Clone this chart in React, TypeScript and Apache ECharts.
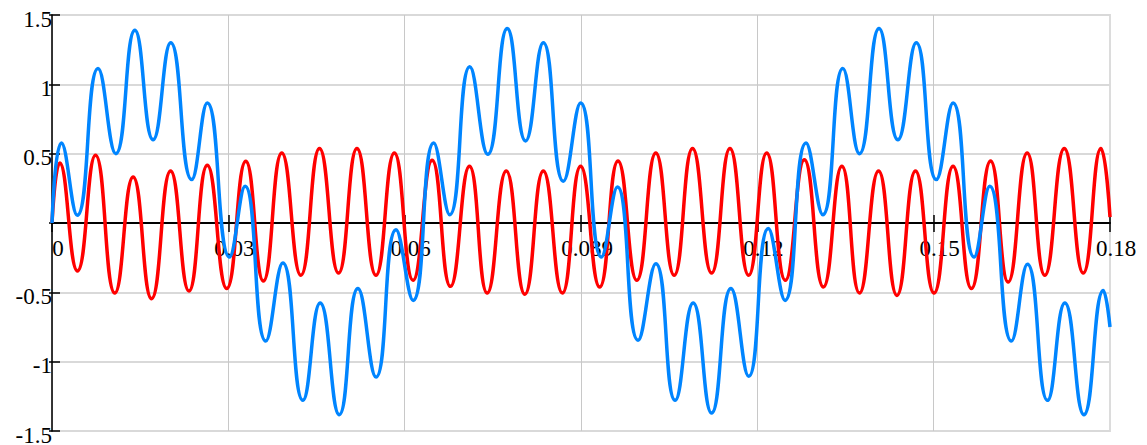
import React, { useEffect, useRef } from "react";
import * as echarts from "echarts";

// Blue curve: turning points (time in s, value)
const blueT = [
  0, 0.0016, 0.0043, 0.00784, 0.01086, 0.0141, 0.0172, 0.0202, 0.02376, 0.02642,
  0.0302, 0.03285, 0.03637, 0.03927, 0.04268, 0.04563, 0.04887, 0.05205, 0.05512, 0.05853,
  0.06143, 0.06494, 0.06767, 0.07108, 0.07414, 0.07745, 0.08057, 0.08359, 0.087, 0.08994,
  0.09347, 0.0962, 0.09971, 0.10273, 0.10602, 0.10908, 0.11222, 0.11551, 0.11853, 0.12187,
  0.12471, 0.12829, 0.13114, 0.13455, 0.13738, 0.1407, 0.14392, 0.14704, 0.15045, 0.1533,
  0.15688, 0.15954, 0.16323, 0.16596, 0.16937, 0.17232, 0.17556, 0.17886, 0.18,
];
const blueV = [
  0, 0.577, 0.056, 1.114, 0.5, 1.39, 0.6, 1.3, 0.313, 0.866,
  -0.245, 0.265, -0.851, -0.289, -1.279, -0.577, -1.382, -0.473, -1.111, -0.048,
  -0.558, 0.577, 0.06, 1.126, 0.496, 1.403, 0.592, 1.3, 0.301, 0.866,
  -0.245, 0.26, -0.846, -0.293, -1.279, -0.577, -1.371, -0.473, -1.106, -0.04,
  -0.558, 0.577, 0.06, 1.114, 0.5, 1.403, 0.6, 1.3, 0.313, 0.866,
  -0.245, 0.265, -0.851, -0.298, -1.279, -0.577, -1.382, -0.486, -0.75,
];

// Red curve: turning points
const redT = [
  0, 0.00131, 0.00433, 0.0074, 0.01069, 0.0138, 0.01694, 0.02018, 0.0233, 0.02642,
  0.02973, 0.03297, 0.03596, 0.0391, 0.04234, 0.04551, 0.04875, 0.05188, 0.05512, 0.05824,
  0.06143, 0.06467, 0.06779, 0.07102, 0.07404, 0.07728, 0.08045, 0.08359, 0.08683, 0.08994,
  0.09318, 0.0963, 0.09949, 0.10273, 0.10585, 0.10898, 0.11222, 0.11534, 0.11853, 0.12159,
  0.12477, 0.128, 0.13124, 0.13438, 0.13738, 0.14062, 0.14375, 0.14691, 0.15006, 0.1533,
  0.15642, 0.15969, 0.16267, 0.16591, 0.16891, 0.17222, 0.17545, 0.17846, 0.18,
];
const redV = [
  0, 0.433, -0.346, 0.488, -0.505, 0.332, -0.546, 0.375, -0.49, 0.416,
  -0.473, 0.445, -0.418, 0.505, -0.377, 0.537, -0.361, 0.537, -0.377, 0.505,
  -0.413, 0.452, -0.457, 0.409, -0.505, 0.375, -0.514, 0.375, -0.505, 0.409,
  -0.462, 0.447, -0.413, 0.505, -0.377, 0.537, -0.361, 0.537, -0.377, 0.505,
  -0.413, 0.457, -0.462, 0.409, -0.505, 0.375, -0.522, 0.375, -0.505, 0.409,
  -0.473, 0.447, -0.426, 0.505, -0.377, 0.537, -0.361, 0.537, 0.043,
];

const xTickLabels = ["0", "0.03", "0.06", "0.089", "0.12", "0.15", "0.18"];
const yTickLabels = ["-1.5", "-1", "-0.5", "", "0.5", "1", "1.5"];

const X_MIN = 0;
const X_MAX = 0.18;
const X_STEP = 0.03;
const Y_MIN = -1.5;
const Y_MAX = 1.5;
const Y_STEP = 0.5;

const FONT = "Liberation Serif";

export default function App() {
  const ref = useRef<HTMLDivElement>(null);

  useEffect(() => {
    if (!ref.current) return;
    const chart = echarts.init(ref.current, null, { renderer: "svg" });

    const blueData = blueT.map((t, i) => [t, blueV[i]]);
    const redData = redT.map((t, i) => [t, redV[i]]);

    const xLabel = (v: number) => {
      const i = Math.round((v - X_MIN) / X_STEP);
      return xTickLabels[i] ?? "";
    };
    const yLabel = (v: number) => {
      const i = Math.round((v - Y_MIN) / Y_STEP);
      return yTickLabels[i] ?? "";
    };

    const common = { type: "value", min: X_MIN, max: X_MAX, interval: X_STEP };
    const commonY = { type: "value", min: Y_MIN, max: Y_MAX, interval: Y_STEP };

    chart.setOption({
      animation: false,
      grid: {
        left: 52,
        right: 37,
        top: 15,
        bottom: 14,
        containLabel: false,
        outerBoundsMode: "none",
        show: true,
        borderColor: "#dcdcdc",
        borderWidth: 2,
        backgroundColor: "transparent",
      },
      xAxis: [
        {
          ...common,
          position: "bottom",
          axisLine: { show: true, onZero: true, onZeroAxisIndex: 0, lineStyle: { color: "#000", width: 2 } },
          axisTick: { show: true, inside: false, length: 9, lineStyle: { color: "#000", width: 1.5 } },
          axisLabel: { show: false },
          splitLine: { show: true, showMaxLine: false, lineStyle: { color: "#c8c8c8", width: 1 } },
        },
        {
          ...common,
          position: "top",
          axisLine: { show: false, onZero: true, onZeroAxisIndex: 0 },
          axisTick: { show: true, inside: false, length: 8, lineStyle: { color: "#000", width: 1.5 } },
          axisLabel: { show: false },
          splitLine: { show: false },
        },
        {
          ...common,
          position: "bottom",
          axisLine: { show: false, onZero: false },
          axisTick: { show: false },
          axisLabel: {
            show: true,
            formatter: xLabel,
            color: "#000",
            fontFamily: FONT,
            fontSize: 23,
            margin: -194,
            verticalAlign: "top",
            lineHeight: 22,
            padding: [0, 0, 0, 12],
            showMinLabel: true,
            showMaxLabel: true,
          },
          splitLine: { show: false },
        },
      ],
      yAxis: [
        {
          ...commonY,
          position: "left",
          axisLine: { show: true, onZero: false, lineStyle: { color: "#000", width: 1.5 } },
          axisTick: { show: true, inside: true, length: 8, lineStyle: { color: "#000", width: 1.5 } },
          axisLabel: {
            show: true,
            formatter: yLabel,
            color: "#000",
            fontFamily: FONT,
            fontSize: 23,
            margin: 0,
            verticalAlign: "top",
            lineHeight: 8,
            showMinLabel: true,
            showMaxLabel: true,
          },
          splitLine: { show: true, lineStyle: { color: "#d9d9d9", width: 2 } },
        },
        {
          ...commonY,
          position: "left",
          axisLine: { show: false, onZero: false },
          axisTick: { show: true, inside: false, length: 3, lineStyle: { color: "#000", width: 1.5 } },
          axisLabel: { show: false },
          splitLine: { show: false },
        },
      ],
      series: [
        {
          name: "red",
          type: "line",
          xAxisIndex: 0,
          yAxisIndex: 0,
          data: redData,
          showSymbol: false,
          smooth: 0.5,
          lineStyle: { color: "#ff0000", width: 3.5 },
          itemStyle: { color: "#ff0000" },
          z: 3,
        },
        {
          name: "blue",
          type: "line",
          xAxisIndex: 0,
          yAxisIndex: 0,
          data: blueData,
          showSymbol: false,
          smooth: 0.5,
          lineStyle: { color: "#0085ff", width: 3.5 },
          itemStyle: { color: "#0085ff" },
          z: 4,
        },
      ],
    });

    return () => chart.dispose();
  }, []);

  return (
    <div
      ref={ref}
      style={{ position: "fixed", left: 0, top: 0, width: 1147, height: 445, background: "#fff" }}
    />
  );
}
